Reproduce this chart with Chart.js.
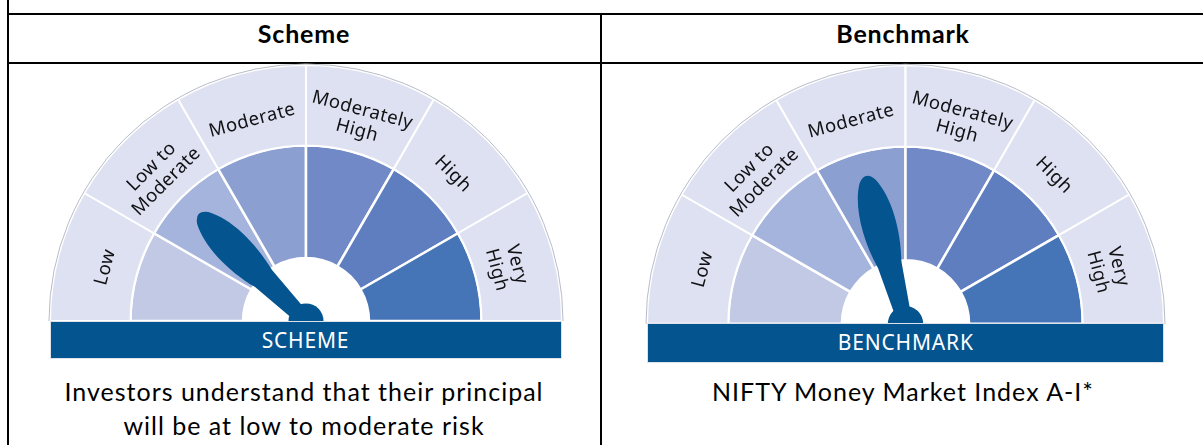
<!DOCTYPE html>
<html><head><meta charset="utf-8">
<script src="https://cdn.jsdelivr.net/npm/chart.js@4.4.1/dist/chart.umd.min.js"></script>
<style>
html,body{margin:0;padding:0;background:#fff;}
#page{position:relative;width:1203px;height:445px;overflow:hidden;font-family:Lato,'Open Sans',sans-serif;}
.ln{position:absolute;background:#000;}
.txt{position:absolute;text-align:center;color:#000;white-space:nowrap;transform:translate(-50%,-50%);}
canvas{position:absolute;}
.bar{position:absolute;background:#03548f;color:#fff;text-align:center;font-family:'Noto Sans',sans-serif;box-sizing:border-box;border:1px solid #dde1ea;font-size:21px;letter-spacing:0.8px;}
</style></head>
<body><div id="page"></div>
<script>
// ---- data ----
const tableTitle = 'Riskometer';
const panelTitles = ['Scheme', 'Benchmark'];
const riskCategories = ['Low', 'Low to Moderate', 'Moderate', 'Moderately High', 'High', 'Very High'];
const ringLabelLines = [['Low'], ['Low to', 'Moderate'], ['Moderate'], ['Moderately', 'High'], ['High'], ['Very', 'High']];
const segmentWeights = [1, 1, 1, 1, 1, 1];
const riskPositions = [1, 2]; // scheme -> Low to Moderate, benchmark -> Moderate
const gaugeBadges = ['SCHEME', 'BENCHMARK'];
const panelNotes = [['Investors understand that their principal', 'will be at low to moderate risk'], ['NIFTY Money Market Index A-I*']];

// ---- styles / layout ----
const ringColor = '#dee1f1';
const innerColors = ['#c1c9e5', '#a5b4dc', '#8c9fd1', '#7189c6', '#5e7ec0', '#4575b6'];
const needleColor = '#03548f';
const layout = [
  {cx: 305.5, cy: 320.5, R: 256, barH: 38.5, colX: 304},
  {cx: 905.8, cy: 323, R: 258.5, barH: 39.5, colX: 903}
];
const page = document.getElementById('page');

function addLine(x, y, w, h) {
  const d = document.createElement('div'); d.className = 'ln';
  Object.assign(d.style, {left: x + 'px', top: y + 'px', width: w + 'px', height: h + 'px'});
  page.appendChild(d);
}
function addText(t, x, y, css) {
  const d = document.createElement('div'); d.className = 'txt'; d.textContent = t;
  Object.assign(d.style, {left: x + 'px', top: y + 'px'}, css || {});
  page.appendChild(d);
}
// table grid
addLine(7, 0, 2, 445);
addLine(7, 12.5, 1200, 2);
addLine(7, 61.5, 1200, 2);
addLine(599.5, 13, 2, 432);
addText(tableTitle, 612, -11, {fontWeight: 'bold', fontSize: '25px', letterSpacing: '0.8px', color: '#777'});
panelTitles.forEach((t, i) => addText(t, layout[i].colX, 33, {fontWeight: 'bold', fontSize: '25px', letterSpacing: '0.8px'}));
panelNotes.forEach((lines, i) => lines.forEach((t, k) => addText(t, layout[i].colX, 391 + k * 34, {fontSize: '25px', letterSpacing: '1px'})));

const gaugePlugin = {
  id: 'gaugeDecor',
  afterDatasetsDraw(chart, args, opts) {
    const ctx = chart.ctx;
    const outer = chart.getDatasetMeta(0).data;
    const inner = chart.getDatasetMeta(1).data;
    const p0 = outer[0].getProps(['x', 'y', 'outerRadius'], true);
    const cx = p0.x, cy = p0.y, R = p0.outerRadius;
    ctx.save();
    // thin outline of outer ring
    ctx.strokeStyle = '#b8bcc8'; ctx.lineWidth = 1;
    ctx.beginPath(); ctx.arc(cx, cy, R + 1, Math.PI, 2 * Math.PI); ctx.stroke();
    // ring labels
    ctx.fillStyle = '#111114';
    ctx.font = '18.5px "Noto Sans"';
    ctx.letterSpacing = '0.5px';
    ctx.textAlign = 'center'; ctx.textBaseline = 'middle';
    outer.forEach((arc, k) => {
      const a = arc.getProps(['startAngle', 'endAngle', 'innerRadius', 'outerRadius'], true);
      const mid = (a.startAngle + a.endAngle) / 2;
      const r = a.innerRadius + (a.outerRadius - a.innerRadius) * 0.4;
      const lines = opts.lines[k];
      ctx.save();
      ctx.translate(cx + r * Math.cos(mid), cy + r * Math.sin(mid));
      ctx.rotate(mid + Math.PI / 2);
      const lh = 21;
      lines.forEach((t, j) => ctx.fillText(t, 0, (j - (lines.length - 1) / 2) * lh));
      ctx.restore();
    });
    // needle
    const tgt = inner[opts.riskIndex].getProps(['startAngle', 'endAngle'], true);
    const ang = (tgt.startAngle + tgt.endAngle) / 2;
    const L = R * 0.594;
    const s = L / 152;
    ctx.save();
    ctx.translate(cx, cy); ctx.rotate(ang); ctx.scale(s, s);
    ctx.fillStyle = needleColor;
    ctx.beginPath();
    ctx.moveTo(0, -7);
    ctx.lineTo(60, -12);
    ctx.bezierCurveTo(92, -20, 126, -19, 146, -8);
    ctx.quadraticCurveTo(157, 0, 146, 8);
    ctx.bezierCurveTo(126, 19, 92, 20, 60, 12);
    ctx.lineTo(0, 7);
    ctx.closePath();
    ctx.fill();
    ctx.beginPath(); ctx.arc(0, 0, 17.5, 0, 2 * Math.PI); ctx.fill();
    ctx.restore();
    ctx.restore();
  }
};

layout.forEach((p, i) => {
  const pad = 4;
  const c = document.createElement('canvas');
  c.width = Math.round(2 * p.R + 2 * pad); c.height = Math.round(p.R + pad);
  c.style.left = (p.cx - c.width / 2) + 'px';
  c.style.top = (p.cy - p.R - pad) + 'px';
  page.appendChild(c);
  const ringBoundary = p.R * 0.6855, hole = p.R * 0.246;
  new Chart(c, {
    type: 'doughnut',
    data: {
      labels: riskCategories,
      datasets: [
        {data: segmentWeights, backgroundColor: ringColor, borderColor: '#ffffff', borderWidth: 2, weight: p.R - ringBoundary},
        {data: segmentWeights, backgroundColor: innerColors, borderColor: '#ffffff', borderWidth: 2.5, weight: ringBoundary - hole}
      ]
    },
    options: {
      responsive: false, animation: false, devicePixelRatio: 1, events: [],
      rotation: -90, circumference: 180, radius: p.R, cutout: (hole / p.R * 100) + '%',
      layout: {padding: {left: pad, right: pad, top: pad, bottom: 0}},
      plugins: {legend: {display: false}, tooltip: {enabled: false},
        gaugeDecor: {riskIndex: riskPositions[i], lines: ringLabelLines}}
    },
    plugins: [gaugePlugin]
  });
  const b = document.createElement('div'); b.className = 'bar'; b.textContent = gaugeBadges[i];
  Object.assign(b.style, {left: (p.cx - p.R) + 'px', top: p.cy + 'px', width: (2 * p.R) + 'px', height: p.barH + 'px', lineHeight: (p.barH - 2) + 'px'});
  page.appendChild(b);
});
</script>
</body></html>
